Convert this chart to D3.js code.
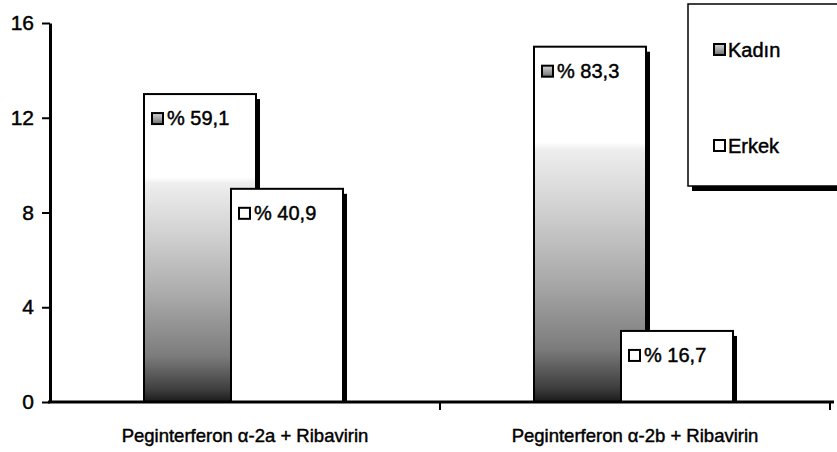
<!DOCTYPE html>
<html>
<head>
<meta charset="utf-8">
<script src="https://cdn.jsdelivr.net/npm/d3@7"></script>
<style>
  body { margin: 0; background: #fff; }
  text { font-family: "Liberation Sans", Arial, sans-serif; fill: #000; stroke: #000; stroke-width: 0.45px; }
</style>
</head>
<body>
<svg id="chart" width="837" height="452"></svg>
<script>
var categories = ["Peginterferon \u03b1-2a + Ribavirin", "Peginterferon \u03b1-2b + Ribavirin"];
var series = ["Kad\u0131n", "Erkek"];
var kadinValues = [13, 15];
var erkekValues = [9, 3];
var kadinLabels = ["% 59,1", "% 83,3"];
var erkekLabels = ["% 40,9", "% 16,7"];
var yTicks = [0, 4, 8, 12, 16];

var svg = d3.select("#chart");

var x0 = d3.scaleBand().domain(categories).range([50, 830]);
var x1 = d3.scaleBand().domain(series).range([94, 268]);
var barW = 112;
var y = d3.scaleLinear().domain([0, 16]).range([402, 23]);

// gradient for the Kadın bars
var defs = svg.append("defs");
var grad = defs.append("linearGradient").attr("id", "kgrad")
    .attr("x1", 0).attr("y1", 0).attr("x2", 0).attr("y2", 1);
[[0, "#ffffff"], [0.27, "#ffffff"], [0.29, "#eeeeee"], [0.45, "#d2d2d2"],
 [0.65, "#ababab"], [0.85, "#7c7c7c"], [0.96, "#3e3e3e"], [1, "#1a1a1a"]]
  .forEach(function(s) {
    grad.append("stop").attr("offset", s[0]).attr("stop-color", s[1]);
  });
var igrad = defs.append("linearGradient").attr("id", "igrad")
    .attr("x1", 0).attr("y1", 0).attr("x2", 0).attr("y2", 1);
igrad.append("stop").attr("offset", 0).attr("stop-color", "#d8d8d8");
igrad.append("stop").attr("offset", 1).attr("stop-color", "#707070");

var rows = categories.map(function(c, i) {
  return [
    {cat: c, key: series[0], value: kadinValues[i], label: kadinLabels[i]},
    {cat: c, key: series[1], value: erkekValues[i], label: erkekLabels[i]}
  ];
});

function drawBar(d) {
  var g = svg.append("g");
  var bx = x0(d.cat) + x1(d.key);
  var top = y(d.value);
  // shadow
  g.append("rect")
    .attr("x", bx + barW).attr("y", top + 5)
    .attr("width", 4).attr("height", y(0) - top - 5)
    .attr("fill", "#000");
  g.append("rect")
    .attr("x", bx).attr("y", top)
    .attr("width", barW).attr("height", y(0) - top)
    .attr("fill", d.key === series[0] ? "url(#kgrad)" : "#fff")
    .attr("stroke", "#000").attr("stroke-width", 2);
  // label with icon
  g.append("rect")
    .attr("x", bx + 8).attr("y", top + 19)
    .attr("width", 11).attr("height", 11)
    .attr("fill", d.key === series[0] ? "url(#igrad)" : "#fff")
    .attr("stroke", "#000").attr("stroke-width", 2);
  g.append("text")
    .attr("x", bx + 23).attr("y", top + 31)
    .attr("font-size", 20)
    .text(d.label);
}

rows.forEach(function(r) { drawBar(r[0]); });
rows.forEach(function(r) { drawBar(r[1]); });

// y axis
var yAxis = svg.append("g")
  .attr("transform", "translate(50,0)")
  .call(d3.axisLeft(y).tickValues(yTicks).tickSize(8).tickSizeOuter(0).tickPadding(8));
yAxis.select(".domain").attr("stroke-width", 3);
yAxis.selectAll(".tick line").attr("stroke-width", 2);
yAxis.selectAll(".tick text").attr("font-size", 21)
  .style("font-family", "Liberation Sans, Arial, sans-serif");

// x axis
svg.append("line")
  .attr("x1", 48).attr("x2", 834).attr("y1", y(0)).attr("y2", y(0))
  .attr("stroke", "#000").attr("stroke-width", 3);
svg.selectAll(".xtick").data(categories).enter().append("line")
  .attr("x1", function(c) { return x0(c) + x0.bandwidth(); })
  .attr("x2", function(c) { return x0(c) + x0.bandwidth(); })
  .attr("y1", y(0)).attr("y2", y(0) + 8)
  .attr("stroke", "#000").attr("stroke-width", 2);
svg.selectAll(".xlab").data(categories).enter().append("text")
  .attr("x", function(c) { return x0(c) + x0.bandwidth() / 2; })
  .attr("y", 442)
  .attr("text-anchor", "middle")
  .attr("font-size", 18.5)
  .text(function(c) { return c; });

// legend
var lg = svg.append("g");
lg.append("rect").attr("x", 692).attr("y", 9).attr("width", 160).attr("height", 182).attr("fill", "#000");
lg.append("rect").attr("x", 688).attr("y", 4).attr("width", 160).attr("height", 182)
  .attr("fill", "#fff").attr("stroke", "#000").attr("stroke-width", 1.5);
series.forEach(function(s, i) {
  var ly = 44 + i * 96;
  lg.append("rect").attr("x", 714).attr("y", ly).attr("width", 11).attr("height", 11)
    .attr("fill", i === 0 ? "url(#igrad)" : "#fff")
    .attr("stroke", "#000").attr("stroke-width", 2);
  lg.append("text").attr("x", 728).attr("y", ly + 13).attr("font-size", 20).text(s);
});
</script>
</body>
</html>
